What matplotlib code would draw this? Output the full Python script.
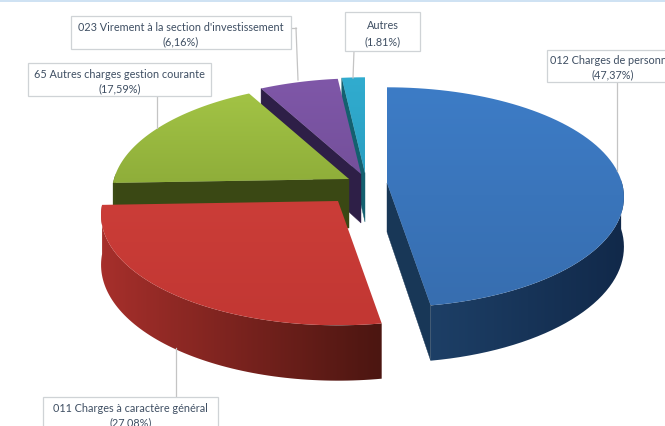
import numpy as np
import matplotlib
matplotlib.use("Agg")
import matplotlib.pyplot as plt
from matplotlib.patches import Polygon, Rectangle
from matplotlib.colors import LinearSegmentedColormap

plt.rcParams['font.family'] = ['Lato', 'DejaVu Sans']

# Data, clockwise from 12 o'clock
names = ["012 Charges de personnel", "011 Charges à caractère général",
         "65 Autres charges gestion courante",
         "023 Virement à la section d'investissement", "Autres"]
shares = [47.37, 27.08, 17.59, 6.16, 1.81]
share_labels = ["(47,37%)", "(27,08%)", "(17,59%)", "(6,16%)", "(1.81%)"]

# Layout, in image pixels
apex_x = [387, 338, 349, 361, 365]
apex_y = [184, 202, 180, 175, 174]
rx, ry, persp, depth = 235, 110, 0.13, 49
face_top = ["#3d7cc6", "#cb3d38", "#a2c345", "#7f57a8", "#31accf"]
face_bottom = ["#376eb0", "#c23733", "#8fae3a", "#74509b", "#2a9fc2"]
rim_left = ["#1d3f66", "#a62f2b", "#3c4c15", "#2e1f47", "#12505f"]
rim_right = ["#11294a", "#4c1611", "#3c4c15", "#2e1f47", "#12505f"]
wall_color = ["#183757", None, "#3a4814", "#2e1f47", "#14606f"]

boxes = [(547, 51, 132, 32), (43, 398, 175, 33), (28, 64, 183, 33),
         (71, 17, 220, 33), (345, 13, 75, 39)]
leaders = [[(617, 83), (617, 172)], [(176, 398), (176, 349)],
           [(157, 97), (157, 129)], [(291, 29), (296, 29), (298, 81)],
           [(354, 52), (353, 79)]]


def rim_point(i, deg, drop=0.0):
    t = np.radians(deg)
    p = 1 - persp * np.cos(t)
    return (apex_x[i] + rx * np.sin(t) * p,
            apex_y[i] - ry * np.cos(t) * p + drop * p)


def gradient_patch(points, c1, c2, z, horizontal=False):
    # fills a polygon with a two colour gradient
    patch = Polygon(points, closed=True, fc="none", ec="none", zorder=z)
    ax.add_patch(patch)
    xs = [q[0] for q in points]
    ys = [q[1] for q in points]
    cmap = LinearSegmentedColormap.from_list("g", [c1, c2])
    ramp = np.linspace(0, 1, 64)
    ramp = ramp.reshape(1, -1) if horizontal else ramp.reshape(-1, 1)
    img = ax.imshow(ramp, cmap=cmap, aspect="auto", interpolation="bilinear",
                    extent=(min(xs), max(xs), max(ys), min(ys)), zorder=z + 0.1)
    img.set_clip_path(patch)


fig = plt.figure(figsize=(6.65, 4.27), dpi=100)
ax = fig.add_axes([0, 0, 1, 1])
ax.axis("off")

ends = np.cumsum(shares) / np.sum(shares) * 360
starts = np.concatenate([[0], ends[:-1]])

# back to front
for i in [4, 3, 2, 1, 0]:
    a0, a1 = starts[i], ends[i]
    angles = np.linspace(a0, a1, 80)
    arc = [rim_point(i, a) for a in angles]
    z = 3 + (4 - i)

    # cut wall, the blue slice shows its closing edge, the others their opening edge
    if wall_color[i] is not None:
        edge = a1 if i == 0 else a0
        wall = [(apex_x[i], apex_y[i]), rim_point(i, edge), rim_point(i, edge, depth),
                (apex_x[i], apex_y[i] + depth)]
        ax.add_patch(Polygon(wall, closed=True, fc=wall_color[i], ec=wall_color[i],
                             lw=0.3, zorder=z))

    # outer rim, front facing part only
    front = [a for a in angles if np.cos(np.radians(a)) < 0.05]
    if len(front) > 1:
        rim = [rim_point(i, a) for a in front] + [rim_point(i, a, depth) for a in front[::-1]]
        gradient_patch(rim, rim_left[i], rim_right[i], z + 0.2, horizontal=True)

    # top face
    gradient_patch([(apex_x[i], apex_y[i])] + arc, face_top[i], face_bottom[i], z + 0.4)

ax.add_patch(Rectangle((0, 0), 665, 3, fc="#cfe2f3", ec="none", zorder=20))

for i in range(len(names)):
    for a, b in zip(leaders[i][:-1], leaders[i][1:]):
        ax.plot([a[0], b[0]], [a[1], b[1]], color="#c4c4c4", lw=0.9, zorder=15)
    x, y, w, h = boxes[i]
    ax.add_patch(Rectangle((x, y), w, h, fc="white", ec="#cfd3d6", lw=0.9, zorder=16))
    ax.text(x + w / 2, y + h * 0.31, names[i], ha="center", va="center", fontsize=7.85,
            color="#3f4f63", zorder=17, clip_on=True)
    ax.text(x + w / 2, y + h * 0.74, share_labels[i], ha="center", va="center", fontsize=7.85,
            color="#3f4f63", zorder=17, clip_on=True)

ax.set_xlim(0, 665)
ax.set_ylim(427, 0)
fig.savefig("out.png", dpi=100, facecolor="white")
